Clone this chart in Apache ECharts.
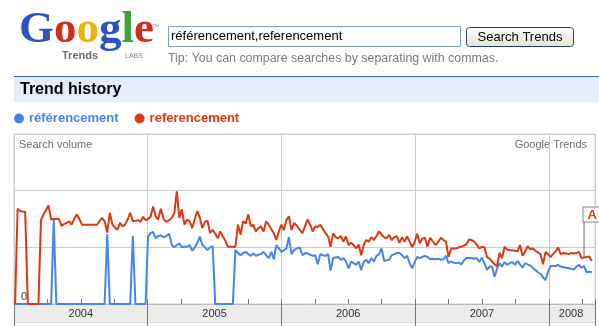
<!DOCTYPE html>
<html><head><meta charset="utf-8">
<script src="https://cdn.jsdelivr.net/npm/echarts@6/dist/echarts.min.js"></script>
<style>html,body{margin:0;padding:0;background:#fff}#c{width:599px;height:326px}</style>
</head><body><div id="c"></div>
<script>
const seriesNames = ['référencement', 'referencement'];
const seriesColors = ['#4684ee', '#dc3912'];
const firstWeekUTC = [2004, 0, 4];   // first weekly sample (Sun 4 Jan 2004)
const yearLabels = ['2004', '2005', '2006', '2007', '2008'];
const yearLabelMonths = [6, 18, 30, 42, 50]; // months since Jan 2004 where each year label sits
const searchQuery = 'référencement,referencement';

// weekly search volume, "référencement" (blue)
const volAccent = [
0,0,0,0,0,0,0,0,0,0,
0,0,0,0,0,1.48,0,0,0,0,
0,0,0,0,0,0,0,0,0,0,
0,0,0,0,0,0,1.23,0,0,0,
0,0,0,0,0,0,1.20,0,0,0,
0,0,1.19,1.25,1.27,1.16,1.20,1.21,1.18,1.20,
1.24,1.04,1.00,1.04,1.07,1.00,1.01,1.01,1.04,0.94,
1.00,1.08,1.19,1.04,1.00,0.95,1.00,1.02,0,0,
0,0,0,0,0,0,0.95,0.90,0.86,0.90,
0.92,0.88,0.85,0.89,0.85,0.87,0.88,0.92,0.86,0.81,
0.92,0.79,1.04,0.98,0.92,0.95,0.98,1.18,0.88,0.95,
0.98,1.00,0.86,0.90,0.89,0.87,0.85,0.86,0.70,0.88,
0.86,0.85,0.88,0.59,0.81,0.82,0.83,0.78,0.81,0.75,
0.63,0.75,0.72,0.69,0.75,0.60,0.74,0.78,0.72,0.81,
0.75,0.85,0.88,0.98,0.76,0.77,0.78,0.86,0.88,0.90,
0.90,0.86,0.81,0.85,0.72,0.63,0.74,0.83,0.81,0.83,
0.85,0.83,0.79,0.80,0.79,0.80,0.78,0.79,0.85,0.72,
0.75,0.73,0.72,0.73,0.70,0.77,0.81,0.81,0.81,0.80,
0.81,0.74,0.82,0.72,0.60,0.66,0.66,0.48,0.62,0.72,
0.66,0.74,0.69,0.72,0.74,0.69,0.76,0.70,0.64,0.72,
0.70,0.68,0.64,0.60,0.56,0.53,0.47,0.42,0.57,0.67,
0.67,0.67,0.69,0.66,0.65,0.64,0.63,0.62,0.61,0.66,
0.69,0.64,0.67,0.56,0.57,0.56
];

// weekly search volume, "referencement" (red)
const volPlain = [
0,1.68,1.64,1.63,1.63,0,0,0,0,0,
1.48,1.58,1.66,1.74,1.49,1.50,1.50,1.50,1.38,1.41,
1.43,1.46,1.40,1.50,1.58,1.50,1.40,1.40,1.40,1.40,
1.40,1.40,1.40,1.46,1.52,1.46,1.26,1.61,1.40,1.35,
1.31,1.43,1.37,1.40,1.49,1.61,1.46,1.47,1.48,1.45,
1.54,1.48,1.50,1.54,1.72,1.55,1.49,1.68,1.50,1.45,
1.48,1.52,1.60,1.99,1.52,1.67,1.40,1.49,1.46,1.34,
1.50,1.64,1.52,1.34,1.45,1.47,1.25,1.31,1.24,1.16,
1.28,1.19,1.12,1.01,1.01,1.01,1.01,1.40,1.22,1.46,
1.42,1.58,1.37,1.40,1.28,1.34,1.37,1.28,1.46,1.40,
1.32,1.25,1.13,1.28,1.40,1.30,1.48,1.55,1.31,1.43,
1.38,1.31,1.25,1.38,1.49,1.40,1.28,1.37,1.36,1.40,
1.32,1.25,1.19,1.01,1.25,1.18,1.16,1.20,1.10,1.19,
1.04,1.08,1.04,0.98,1.05,0.86,1.04,1.13,1.10,1.18,
1.13,1.20,1.28,1.22,1.18,1.16,1.22,1.13,1.18,1.20,
1.08,1.18,1.10,1.19,1.10,1.00,1.10,1.24,1.07,1.15,
1.17,1.01,1.17,1.10,1.04,1.10,1.17,1.13,1.10,0.83,
0.98,0.98,0.98,1.00,1.01,1.03,1.06,1.14,1.13,1.10,
1.05,0.98,1.01,1.00,0.83,0.80,0.75,0.70,0.66,0.90,
0.81,1.01,0.96,0.95,0.95,0.94,0.93,1.04,0.85,0.92,
1.02,0.97,0.98,0.94,0.91,0.88,0.70,0.92,0.88,0.83,
0.88,0.93,1.00,0.88,0.90,0.89,0.88,0.90,0.89,0.90,
0.92,0.81,0.82,0.83,0.84,0.76
];
const annotationWeek = 222;
const annotationLetter = 'A';

const X_MAX = 52.15; // months shown (Jan 2004 .. early Apr 2008)
const FONT = '"Liberation Sans", Arial, sans-serif';
const SERIF = '"Liberation Serif", "DejaVu Serif", serif';

function monthPos(i) {
  const d = new Date(Date.UTC(firstWeekUTC[0], firstWeekUTC[1], firstWeekUTC[2] + 7 * i));
  const y = d.getUTCFullYear(), m = d.getUTCMonth();
  const dim = new Date(Date.UTC(y, m + 1, 0)).getUTCDate();
  return (y - 2004) * 12 + m + (d.getUTCDate() - 1) / dim;
}
const toPairs = arr => arr.map((v, i) => [monthPos(i), v]);
const labelMap = {};
yearLabelMonths.forEach((m, k) => labelMap[m] = yearLabels[k]);

const chart = echarts.init(document.getElementById('c'), null, {renderer: 'canvas'});
chart.setOption({
  animation: false,
  backgroundColor: '#fff',
  textStyle: {fontFamily: FONT},
  grid: {left: 14, right: 4, top: 134, bottom: 22, show: true, borderColor: '#ccc', borderWidth: 1},
  legend: {
    left: 9, top: 107, padding: 5, icon: 'circle', itemWidth: 10, itemHeight: 10, itemGap: 16,
    textStyle: {fontWeight: 'bold', fontSize: 13, fontFamily: FONT},
    data: [
      {name: seriesNames[0], textStyle: {color: seriesColors[0]}},
      {name: seriesNames[1], textStyle: {color: seriesColors[1]}}
    ]
  },
  xAxis: [
    { // year labels in the grey band
      type: 'value', min: 0, max: X_MAX, interval: 1, position: 'bottom',
      axisLine: {show: false}, axisTick: {show: false}, splitLine: {show: false},
      axisLabel: {show: true, margin: 10, verticalAlign: 'middle', color: '#333', fontSize: 11,
        formatter: v => labelMap[Math.round(v * 1000) / 1000] || ''}
    },
    { // year boundaries
      type: 'value', min: 0, max: X_MAX, interval: 12, position: 'bottom',
      axisLine: {show: true, lineStyle: {color: '#bbb', width: 1}},
      axisTick: {show: true, inside: false, length: 23, lineStyle: {color: '#777'}},
      splitLine: {show: true, lineStyle: {color: '#ccc'}},
      axisLabel: {show: false}
    },
    { // quarter ticks
      type: 'value', min: 0, max: X_MAX, interval: 3, position: 'bottom',
      axisLine: {show: false},
      axisTick: {show: true, inside: true, length: 5, lineStyle: {color: '#777'}},
      splitLine: {show: false}, axisLabel: {show: false}
    }
  ],
  yAxis: {
    type: 'value', min: 0, max: 3, interval: 1,
    axisLine: {show: false}, axisTick: {show: false},
    splitLine: {show: true, lineStyle: {color: '#ccc'}},
    axisLabel: {show: true, inside: true, margin: 7, verticalAlign: 'bottom', padding: [0, 0, 2, 0],
      color: '#444', fontSize: 11, formatter: v => v === 0 ? '0' : ''}
  },
  series: [
    {
      name: seriesNames[0], type: 'line', xAxisIndex: 1, data: toPairs(volAccent),
      showSymbol: false, color: seriesColors[0], lineStyle: {width: 2, color: seriesColors[0]}, z: 3
    },
    {
      name: seriesNames[1], type: 'line', xAxisIndex: 1, data: toPairs(volPlain),
      showSymbol: false, color: seriesColors[1], lineStyle: {width: 2, color: seriesColors[1]}, z: 4,
      markPoint: {
        silent: true,
        data: [{
          coord: [monthPos(annotationWeek), volPlain[annotationWeek]],
          symbol: 'rect', symbolSize: [1, 50], symbolOffset: [0, '-50%'],
          itemStyle: {color: '#666'},
          label: {show: true, formatter: annotationLetter, position: [0, 0],
            color: seriesColors[1], fontWeight: 'bold', fontSize: 13, fontFamily: FONT,
            backgroundColor: '#fff', borderColor: '#888', borderWidth: 1, padding: [1, 4, 0, 4]}
        }]
      }
    }
  ],
  graphic: [
    // grey band under the plot
    {type: 'rect', z: -10, shape: {x: 14, y: 304, width: 581, height: 18}, style: {fill: '#ececec'}},
    {type: 'line', z: -10, shape: {x1: 14, y1: 322.5, x2: 595, y2: 322.5}, style: {stroke: '#d8d8d8', lineWidth: 1}},
    // Google logo (text)
    {type: 'text', left: 19, top: 8, z: 10,
      style: {text: '{b|G}{r|o}{y|o}{b|g}{g|l}{r|e}',
        rich: {
          b: {fill: '#2a55c0', font: 'bold 45px ' + SERIF},
          r: {fill: '#d52b1e', font: 'bold 45px ' + SERIF},
          y: {fill: '#efb30a', font: 'bold 45px ' + SERIF},
          g: {fill: '#3aa43a', font: 'bold 45px ' + SERIF}
        }}},
    {type: 'text', left: 152, top: 24, style: {text: '™', fill: '#888', font: '7px ' + FONT}},
    {type: 'text', left: 62, top: 50, style: {text: 'Trends', fill: '#6b6b6b', font: 'bold 11px ' + FONT}},
    {type: 'text', left: 125, top: 53, style: {text: 'LABS', fill: '#888', font: '7px ' + FONT}},
    // search input
    {type: 'rect', shape: {x: 168.5, y: 26.5, width: 292, height: 20}, style: {fill: '#fff', stroke: '#7f9db9', lineWidth: 1}},
    {type: 'text', x: 171, y: 36.5, style: {text: searchQuery, fill: '#000', font: '13px ' + FONT, verticalAlign: 'middle'}},
    // button
    {type: 'rect', shape: {x: 466.5, y: 27.5, width: 107, height: 19, r: 3},
      style: {stroke: '#1c3f6e', lineWidth: 1,
        fill: new echarts.graphic.LinearGradient(0, 0, 0, 1, [{offset: 0, color: '#ffffff'}, {offset: 1, color: '#e6e3d6'}])}},
    {type: 'text', x: 520, y: 37.5, style: {text: 'Search Trends', fill: '#000', font: '13px ' + FONT, align: 'center', verticalAlign: 'middle'}},
    // tip
    {type: 'text', x: 168, y: 58.5, style: {text: 'Tip: You can compare searches by separating with commas.', fill: '#7a7a7a', font: '12.4px ' + FONT, verticalAlign: 'middle'}},
    // Trend history band
    {type: 'rect', shape: {x: 14, y: 77, width: 585, height: 25}, style: {fill: '#e5ecf9'}},
    {type: 'line', shape: {x1: 14, y1: 76.5, x2: 599, y2: 76.5}, style: {stroke: '#3366cc', lineWidth: 1}},
    {type: 'text', x: 20, y: 89.5, style: {text: 'Trend history', fill: '#000', font: 'bold 16px ' + FONT, verticalAlign: 'middle'}},
    // chart captions
    {type: 'text', x: 19, y: 145, style: {text: 'Search volume', fill: '#6f6f6f', font: '11px ' + FONT, verticalAlign: 'middle'}},
    {type: 'text', x: 587, y: 145, style: {text: 'Google Trends', fill: '#6f6f6f', font: '11px ' + FONT, align: 'right', verticalAlign: 'middle'}}
  ]
});
</script>
</body></html>
